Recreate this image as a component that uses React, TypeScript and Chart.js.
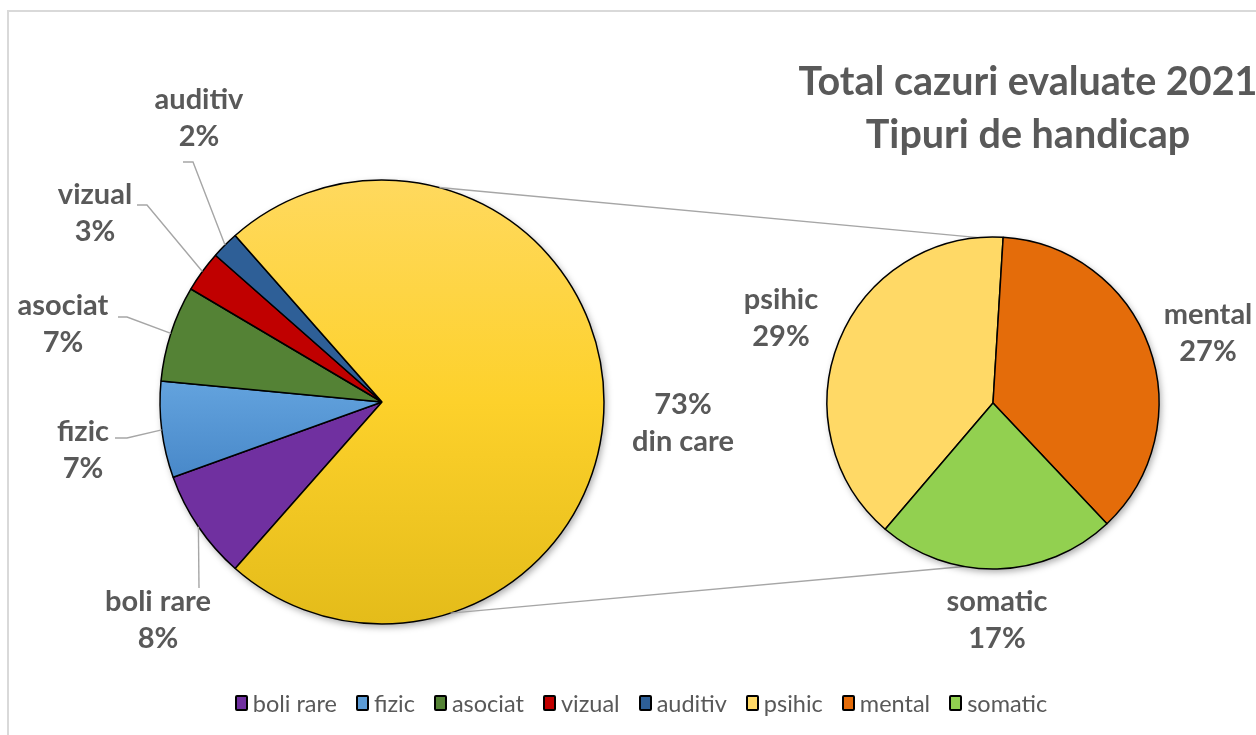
import React, { useEffect, useRef } from "react";
import { Chart, registerables } from "chart.js";

Chart.register(...registerables);

// ---------- data ----------
const mainCategories = ["boli rare", "fizic", "asociat", "vizual", "auditiv", "din care"];
const mainValues = [8, 7, 7, 3, 2, 73];
const subCategories = ["psihic", "mental", "somatic"];
const subValues = [29, 27, 17];
const titleLines = ["Total cazuri evaluate 2021", "Tipuri de handicap"];

// ---------- style ----------
const mainColors = ["#7030A0", "#5B9BD5", "#548235", "#C00000", "#2E5F97", "#FCD12A"];
const subColors = ["#FFD966", "#E46C0A", "#92D050"];
const legendLabels = [...mainCategories.slice(0, 5), ...subCategories];
const legendColors = [...mainColors.slice(0, 5), ...subColors];

const FONT = "Lato, 'Open Sans', sans-serif";
const TEXT_COLOR = "#595959";
const LINE_COLOR = "#A6A6A6";
const LABEL_FONT = `bold 29px ${FONT}`;
const LINE_GAP = 37;

const W = 1256;
const H = 735;
const MAIN_R = 222;
const SUB_R = 166;
const MAIN_C = [382, 402];
const SUB_C = [993, 403];

// gradients (top -> bottom of the pie) for selected slices
const mainGradients: Record<number, [number, string][]> = {
  1: [[0, "#8CC0EE"], [0.42, "#67A7E1"], [0.68, "#4787C8"], [1, "#3A78B8"]],
  5: [[0, "#FFD95E"], [0.5, "#FDD12B"], [1, "#E4BC1A"]],
};

type LabelSpec = { lines: string[]; dx: number; dy: number; leader?: number[][] };

const mainLabelLayout = [
  { dx: -224, dy: 200, leader: [[-183, 186]] },
  { dx: -299, dy: 30, leader: [[-255, 36], [-267, 36]] },
  { dx: -319, dy: -96, leader: [[-255, -85], [-264, -85]] },
  { dx: -287, dy: -207, leader: [[-235, -197], [-245, -197]] },
  { dx: -183, dy: -302, leader: [[-189, -240], [-199, -240]] },
  { dx: 301, dy: 3 },
];
const subLabelLayout = [
  { dx: -212, dy: -103 },
  { dx: 215, dy: -88 },
  { dx: 4, dy: 199 },
];

// connector angles (degrees) on main pie and sub pie: [top, bottom]
const CONNECT_MAIN = [-75, 72];
const CONNECT_SUB = [-95, 100];

const mainSpecs: LabelSpec[] = mainCategories.map((c, i) => ({
  lines: i === 5 ? [`${mainValues[i]}%`, c] : [c, `${mainValues[i]}%`],
  ...mainLabelLayout[i],
}));
const subSpecs: LabelSpec[] = subCategories.map((c, i) => ({
  lines: [c, `${subValues[i]}%`],
  ...subLabelLayout[i],
}));

function makeLabelPlugin(specs: LabelSpec[]) {
  return {
    id: "sliceLabels",
    afterDatasetsDraw(chart: any) {
      const ctx = chart.ctx;
      const arcs = chart.getDatasetMeta(0).data;
      ctx.save();
      arcs.forEach((arc: any, i: number) => {
        const s = specs[i];
        if (!s) return;
        const { x, y, startAngle, endAngle, outerRadius } = arc.getProps(
          ["x", "y", "startAngle", "endAngle", "outerRadius"],
          true
        );
        if (s.leader) {
          const mid = (startAngle + endAngle) / 2;
          ctx.beginPath();
          ctx.moveTo(x + outerRadius * Math.cos(mid), y + outerRadius * Math.sin(mid));
          s.leader.forEach(([lx, ly]) => ctx.lineTo(x + lx, y + ly));
          ctx.strokeStyle = LINE_COLOR;
          ctx.lineWidth = 1.4;
          ctx.stroke();
        }
        ctx.font = LABEL_FONT;
        ctx.fillStyle = TEXT_COLOR;
        ctx.textAlign = "center";
        ctx.textBaseline = "middle";
        s.lines.forEach((t, k) => ctx.fillText(t, x + s.dx, y + s.dy + k * LINE_GAP));
      });
      ctx.restore();
    },
  };
}

const shadowPlugin = {
  id: "pieShadow",
  beforeDatasetsDraw(chart: any) {
    const arc = chart.getDatasetMeta(0).data[0];
    if (!arc) return;
    const { x, y, outerRadius } = arc.getProps(["x", "y", "outerRadius"], true);
    const ctx = chart.ctx;
    ctx.save();
    ctx.beginPath();
    ctx.arc(x, y, outerRadius, 0, Math.PI * 2);
    ctx.fillStyle = "#ffffff";
    ctx.shadowColor = "rgba(0,0,0,0.35)";
    ctx.shadowBlur = 7;
    ctx.shadowOffsetX = 2;
    ctx.shadowOffsetY = 3;
    ctx.fill();
    ctx.restore();
  },
};

function makeConnectorPlugin(getMain: () => any) {
  return {
    id: "connectors",
    beforeDatasetsDraw(chart: any) {
      const main = getMain();
      if (!main) return;
      const a = main.getDatasetMeta(0).data[0];
      const b = chart.getDatasetMeta(0).data[0];
      if (!a || !b) return;
      const pa = a.getProps(["x", "y", "outerRadius"], true);
      const pb = b.getProps(["x", "y", "outerRadius"], true);
      const ctx = chart.ctx;
      ctx.save();
      ctx.strokeStyle = LINE_COLOR;
      ctx.lineWidth = 1.4;
      for (let k = 0; k < 2; k++) {
        const t1 = (CONNECT_MAIN[k] * Math.PI) / 180;
        const t2 = (CONNECT_SUB[k] * Math.PI) / 180;
        ctx.beginPath();
        ctx.moveTo(pa.x + pa.outerRadius * Math.cos(t1), pa.y + pa.outerRadius * Math.sin(t1));
        ctx.lineTo(pb.x + pb.outerRadius * Math.cos(t2), pb.y + pb.outerRadius * Math.sin(t2));
        ctx.stroke();
      }
      ctx.restore();
    },
  };
}

export default function App() {
  const leftRef = useRef<HTMLCanvasElement>(null);
  const rightRef = useRef<HTMLCanvasElement>(null);

  useEffect(() => {
    const mainBg = (c: any) => {
      const i = c.dataIndex;
      const stops = mainGradients[i];
      const chart = c.chart;
      const area = chart.chartArea;
      if (!stops || !area) return mainColors[i];
      const cy = (area.top + area.bottom) / 2;
      const g = chart.ctx.createLinearGradient(0, cy - MAIN_R, 0, cy + MAIN_R);
      stops.forEach(([o, col]) => g.addColorStop(o, col));
      return g;
    };

    const left = new Chart(leftRef.current as HTMLCanvasElement, {
      type: "pie",
      data: {
        labels: mainCategories,
        datasets: [
          {
            data: mainValues,
            backgroundColor: mainBg as any,
            borderColor: "#000000",
            borderWidth: 1.5,
          },
        ],
      },
      options: {
        responsive: false,
        animation: false,
        devicePixelRatio: 1,
        events: [],
        radius: MAIN_R,
        rotation: 221.4,
        layout: {
          padding: {
            left: 0,
            right: W - 2 * MAIN_C[0],
            top: 2 * MAIN_C[1] - H,
            bottom: 0,
          },
        },
        plugins: { legend: { display: false }, tooltip: { enabled: false }, title: { display: false } },
      } as any,
      plugins: [shadowPlugin, makeLabelPlugin(mainSpecs)],
    });

    const right = new Chart(rightRef.current as HTMLCanvasElement, {
      type: "pie",
      data: {
        labels: subCategories,
        datasets: [
          {
            data: subValues,
            backgroundColor: subColors,
            borderColor: "#000000",
            borderWidth: 1.5,
          },
        ],
      },
      options: {
        responsive: false,
        animation: false,
        devicePixelRatio: 1,
        events: [],
        radius: SUB_R,
        rotation: 220.5,
        layout: {
          padding: {
            left: 2 * SUB_C[0] - W,
            right: 0,
            top: 2 * SUB_C[1] - H,
            bottom: 0,
          },
        },
        plugins: { legend: { display: false }, tooltip: { enabled: false }, title: { display: false } },
      } as any,
      plugins: [makeConnectorPlugin(() => left), shadowPlugin, makeLabelPlugin(subSpecs)],
    });

    let alive = true;
    const fonts: any = (document as any).fonts;
    if (fonts && fonts.load) {
      Promise.all([fonts.load(`bold 29px Lato`), fonts.load(`23px Lato`)]).then(() => {
        if (!alive) return;
        left.update();
        right.update();
      });
    }
    return () => {
      alive = false;
      left.destroy();
      right.destroy();
    };
  }, []);

  return (
    <div
      style={{
        position: "fixed",
        left: 0,
        top: 0,
        width: W,
        height: H,
        overflow: "hidden",
        background: "#ffffff",
      }}
    >
      <div
        style={{
          position: "absolute",
          left: 7,
          top: 10,
          width: 1400,
          height: 900,
          borderTop: "2px solid #D9D9D9",
          borderLeft: "2px solid #D9D9D9",
        }}
      />
      <canvas
        ref={leftRef}
        width={W}
        height={H}
        style={{ position: "absolute", left: 0, top: 0, width: W, height: H }}
      />
      <canvas
        ref={rightRef}
        width={W}
        height={H}
        style={{ position: "absolute", left: 0, top: 0, width: W, height: H }}
      />
      <div
        style={{
          position: "absolute",
          left: 728,
          top: 53,
          width: 600,
          textAlign: "center",
          font: `bold 39.5px ${FONT}`,
          lineHeight: "53px",
          color: TEXT_COLOR,
          whiteSpace: "nowrap",
        }}
      >
        {titleLines.map((t) => (
          <div key={t}>{t}</div>
        ))}
      </div>
      <div
        style={{
          position: "absolute",
          left: 41,
          top: 689,
          width: 1200,
          height: 28,
          display: "flex",
          justifyContent: "center",
          alignItems: "center",
          font: `23.5px ${FONT}`,
          color: TEXT_COLOR,
          whiteSpace: "nowrap",
        }}
      >
        {legendLabels.map((l, i) => (
          <div key={l} style={{ display: "flex", alignItems: "center", marginRight: i < legendLabels.length - 1 ? 19 : 0 }}>
            <span
              style={{
                display: "inline-block",
                width: 9,
                height: 12,
                background: legendColors[i],
                border: "2px solid #000",
                borderRadius: 2,
                marginRight: 5,
              }}
            />
            <span>{l}</span>
          </div>
        ))}
      </div>
    </div>
  );
}
